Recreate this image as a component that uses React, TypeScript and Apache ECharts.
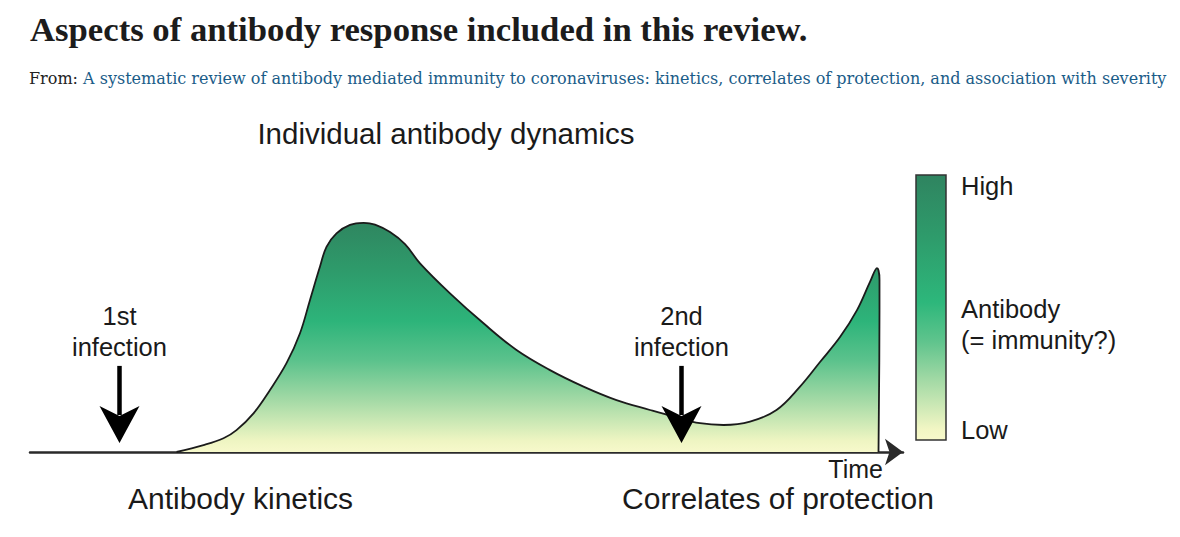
import React, { useEffect, useRef } from "react";
import * as echarts from "echarts";

// ---------- texts ----------
const titleText = "Aspects of antibody response included in this review.";
const sourcePrefix = "From: ";
const sourceLink =
  "A systematic review of antibody mediated immunity to coronaviruses: kinetics, correlates of protection, and association with severity";
const panelTitle = "Individual antibody dynamics";
const axisName = "Time";
const bottomLabels = ["Antibody kinetics", "Correlates of protection"];
const bottomLabelTimes = [42.1, 149.6];
const scaleHigh = "High";
const scaleMid = "Antibody\n(= immunity?)";
const scaleLow = "Low";

// ---------- data: time (arbitrary units) vs antibody level (0-100) ----------
const curveTime = [
  29.3, 34.7, 38.7, 41.3, 44.7, 48, 51.3, 54, 56, 58, 59.3, 61.3, 64, 66.7, 69,
  72, 75, 78, 84, 90.7, 97.3, 104, 110.7, 117.3, 124, 128.7, 134, 138.7, 144,
  149.3, 154, 158, 162, 165.4, 168, 169.4, 169.9, 169.9, 169.7,
];
const curveLevel = [
  0, 2.3, 4.6, 7.3, 12.9, 20.7, 29.6, 39.6, 50.7, 61.8, 68.4, 72.9, 75.7, 76.4,
  75.8, 73.3, 69.3, 62.9, 52.9, 42.9, 34, 27.3, 21.8, 17.3, 14, 11.8, 9.6, 9,
  10.1, 14, 21.8, 30, 38.3, 47.3, 56.7, 61.3, 57.3, 47.3, 0,
];

const infectionTimes = [17.9, 130.3];
const infectionLabels = [["1st", "infection"], ["2nd", "infection"]];
const arrowTopLevel = 28.7;
const arrowTipLevel = 3;

const areaStops = [
  { offset: 0, color: "#2f8660" },
  { offset: 0.21, color: "#2e9b6b" },
  { offset: 0.43, color: "#2db47a" },
  { offset: 0.6, color: "#5bc28c" },
  { offset: 0.77, color: "#a2d9a5" },
  { offset: 0.95, color: "#eef5c2" },
  { offset: 1, color: "#f7f9cb" },
];
const barStops = [
  { offset: 0, color: "#2f8460" },
  { offset: 0.25, color: "#2e9d6c" },
  { offset: 0.48, color: "#2db77b" },
  { offset: 0.63, color: "#60c48d" },
  { offset: 0.78, color: "#a5daa6" },
  { offset: 0.96, color: "#f2f6c4" },
  { offset: 1, color: "#f8f9ca" },
];

const SANS = '"Liberation Sans", Arial, Helvetica, sans-serif';

export default function App() {
  const ref = useRef<HTMLDivElement>(null);

  useEffect(() => {
    document.body.style.margin = "0";
    if (!ref.current) return;
    const chart = echarts.init(ref.current, null, { renderer: "svg" });
    chart.setOption({
      animation: false,
      backgroundColor: "#ffffff",
      title: [
        {
          text: titleText,
          left: 30,
          top: 12,
          padding: 0,
          textStyle: {
            fontFamily: '"Liberation Serif", serif',
            fontWeight: "bold",
            fontSize: 34.7,
            lineHeight: 34,
            color: "#1c1c1c",
          },
        },
        {
          text: "{a|" + sourcePrefix + "}{b|" + sourceLink + "}",
          left: 29,
          top: 68,
          padding: 0,
          textStyle: {
            fontWeight: "normal",
            rich: {
              a: {
                fontFamily: '"DejaVu Serif", serif',
                fontWeight: "normal",
                fontSize: 16,
                lineHeight: 20,
                color: "#222222",
              },
              b: {
                fontFamily: '"DejaVu Serif", serif',
                fontWeight: "normal",
                fontSize: 16,
                lineHeight: 20,
                color: "#1a5c88",
              },
            },
          },
        },
      ],
      grid: { left: 30, right: 277, top: 152, bottom: 85 },
      xAxis: {
        type: "value",
        min: 0,
        max: 174.6,
        axisLine: {
          show: true,
          symbol: ["none", "arrow"],
          symbolSize: [20, 18],
          lineStyle: { color: "#2a2a2a", width: 2.5 },
        },
        axisTick: { show: false },
        axisLabel: { show: false },
        splitLine: { show: false },
      },
      yAxis: { type: "value", min: 0, max: 100, show: false },
      series: [
        {
          type: "line",
          data: curveTime.map((t, i) => [t, curveLevel[i]]),
          smooth: 0.38,
          symbol: "none",
          lineStyle: { color: "#1b1b1b", width: 1.8 },
          areaStyle: {
            origin: "start",
            opacity: 1,
            color: new echarts.graphic.LinearGradient(0, 0, 0, 1, areaStops),
          },
          z: 3,
        },
      ],
    });

    const toPx = (t: number, v: number) =>
      chart.convertToPixel({ gridIndex: 0 }, [t, v]) as number[];

    const graphics: any[] = [];
    graphics.push({
      type: "text",
      style: {
        x: 446,
        y: 133,
        text: panelTitle,
        font: "29.5px " + SANS,
        fill: "#1a1a1a",
        textAlign: "center",
        textVerticalAlign: "middle",
      },
    });
    infectionTimes.forEach((t, i) => {
      const top = toPx(t, arrowTopLevel);
      const tip = toPx(t, arrowTipLevel);
      const x = tip[0];
      graphics.push({
        type: "line",
        shape: { x1: x, y1: top[1], x2: x, y2: tip[1] - 28 },
        style: { stroke: "#000000", lineWidth: 4.5 },
        z: 10,
      });
      graphics.push({
        type: "polygon",
        shape: {
          points: [
            [x, tip[1]],
            [x - 20, tip[1] - 37],
            [x, tip[1] - 27],
            [x + 20, tip[1] - 37],
          ],
        },
        style: { fill: "#000000" },
        z: 10,
      });
      graphics.push({
        type: "text",
        style: {
          x: x,
          y: top[1] - 50,
          text: infectionLabels[i][0],
          font: "25.5px " + SANS,
          lineHeight: 26,
          fill: "#1a1a1a",
          textAlign: "center",
          textVerticalAlign: "middle",
        },
      });
      graphics.push({
        type: "text",
        style: {
          x: x,
          y: top[1] - 19,
          text: infectionLabels[i][1],
          font: "25.5px " + SANS,
          lineHeight: 26,
          fill: "#1a1a1a",
          textAlign: "center",
          textVerticalAlign: "middle",
        },
      });
    });
    const base = toPx(0, 0);
    const timeEnd = toPx(170.6, 0);
    graphics.push({
      type: "text",
      style: {
        x: timeEnd[0],
        y: base[1] + 17,
        text: axisName,
        font: "25px " + SANS,
        lineHeight: 20,
        fill: "#1a1a1a",
        textAlign: "right",
        textVerticalAlign: "middle",
      },
    });
    bottomLabelTimes.forEach((t, i) => {
      const p = toPx(t, 0);
      graphics.push({
        type: "text",
        style: {
          x: p[0],
          y: p[1] + 46,
          text: bottomLabels[i],
          font: "30px " + SANS,
          lineHeight: 26,
          fill: "#1a1a1a",
          textAlign: "center",
          textVerticalAlign: "middle",
        },
      });
    });
    // colour scale bar
    const barX = 916;
    const barY = 175;
    const barW = 30;
    const barH = 265;
    graphics.push({
      type: "rect",
      shape: { x: barX, y: barY, width: barW, height: barH },
      style: {
        fill: new echarts.graphic.LinearGradient(0, 0, 0, 1, barStops),
        stroke: "#333333",
        lineWidth: 1.5,
      },
    });
    const labX = barX + barW + 15;
    graphics.push({
      type: "text",
      style: {
        x: labX,
        y: 186,
        text: scaleHigh,
        font: "25.5px " + SANS,
        fill: "#1a1a1a",
        textAlign: "left",
        textVerticalAlign: "middle",
      },
    });
    graphics.push({
      type: "text",
      style: {
        x: labX,
        y: 324,
        text: scaleMid,
        font: "25.5px " + SANS,
        lineHeight: 31,
        fill: "#1a1a1a",
        textAlign: "left",
        textVerticalAlign: "middle",
      },
    });
    graphics.push({
      type: "text",
      style: {
        x: labX,
        y: 430,
        text: scaleLow,
        font: "25.5px " + SANS,
        fill: "#1a1a1a",
        textAlign: "left",
        textVerticalAlign: "middle",
      },
    });

    chart.setOption({ graphic: graphics });

    return () => chart.dispose();
  }, []);

  return (
    <div
      ref={ref}
      style={{ position: "absolute", left: 0, top: 0, width: 1180, height: 537 }}
    />
  );
}
